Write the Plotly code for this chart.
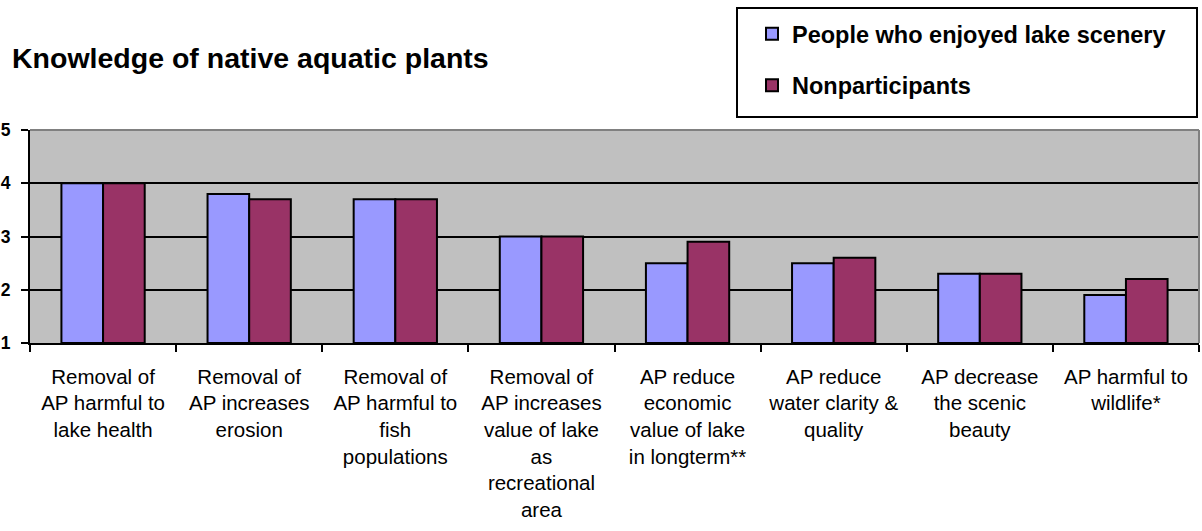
import plotly.graph_objects as go

# chart values
CATEGORIES = [
    "Removal of<br>AP harmful to<br>lake health",
    "Removal of<br>AP increases<br>erosion",
    "Removal of<br>AP harmful to<br>fish<br>populations",
    "Removal of<br>AP increases<br>value of lake<br>as<br>recreational<br>area",
    "AP reduce<br>economic<br>value of lake<br>in longterm**",
    "AP reduce<br>water clarity &<br>quality",
    "AP decrease<br>the scenic<br>beauty",
    "AP harmful to<br>wildlife*",
]
SCENERY = [4.0, 3.8, 3.7, 3.0, 2.5, 2.5, 2.3, 1.9]
NONPART = [4.0, 3.7, 3.7, 3.0, 2.9, 2.6, 2.3, 2.2]
SERIES_NAMES = ["People who enjoyed lake scenery", "Nonparticipants"]
Y_TICKS = [1, 2, 3, 4, 5]

FONT = "Arial, Liberation Sans, sans-serif"
BLUE = "#9999FF"
MAROON = "#993366"
PLOT_BG = "#C0C0C0"

W, H = 1202, 531
L, R, T, B = 30, 3, 130, 531 - 343
plot_w = W - L - R
plot_h = H - T - B


def px_x(x):
    # page pixel -> paper x
    return (x - L) / plot_w


def px_y(y):
    # page pixel -> paper y
    return (H - B - y) / plot_h


fig = go.Figure()
for name, vals, col in [(SERIES_NAMES[0], SCENERY, BLUE), (SERIES_NAMES[1], NONPART, MAROON)]:
    fig.add_trace(go.Bar(
        x=CATEGORIES,
        y=[v - 1 for v in vals],
        base=1,
        name=name,
        legendgroup=name,
        marker=dict(color=col, line=dict(color="black", width=2)),
        hoverinfo="skip",
    ))

fig.update_layout(
    width=W,
    height=H,
    margin=dict(l=L, r=R, t=T, b=B, autoexpand=False),
    paper_bgcolor="white",
    plot_bgcolor=PLOT_BG,
    barmode="group",
    bargap=0.43,
    bargroupgap=0,
    font=dict(family=FONT, color="black"),
    title=dict(
        text="Knowledge of native aquatic plants",
        x=12 / W, xref="container", xanchor="left",
        y=1 - 58 / H, yref="container", yanchor="middle",
        pad=dict(l=0, r=0, t=0, b=0),
        font=dict(family=FONT, size=28.5, color="black", weight="bold"),
    ),
    legend=dict(
        x=px_x(752), y=px_y(12), xanchor="left", yanchor="top",
        bgcolor="rgba(0,0,0,0)", borderwidth=0,
        font=dict(family=FONT, size=23.5, color="black", weight="bold"),
        traceorder="grouped", tracegroupgap=18,
    ),
    showlegend=True,
)

fig.update_xaxes(
    automargin=False,
    showline=True, linecolor="black", linewidth=2,
    ticks="outside", tickson="boundaries", ticklen=7, tickwidth=2, tickcolor="black",
    tickfont=dict(family=FONT, size=20.5, color="black"),
    ticklabelstandoff=14,
    showgrid=False,
    fixedrange=True,
)
fig.update_yaxes(
    automargin=False,
    range=[1, 5], tickvals=Y_TICKS,
    showline=True, linecolor="black", linewidth=2,
    ticks="outside", ticklen=7, tickwidth=2, tickcolor="black",
    tickfont=dict(family=FONT, size=17.5, color="black", weight="bold"),
    ticklabelstandoff=7,
    showgrid=True, gridcolor="black", gridwidth=2,
    zeroline=False,
    fixedrange=True,
)

# grey top/right plot border and the legend frame
fig.add_shape(type="line", xref="paper", yref="paper", x0=0, x1=1, y0=1, y1=1,
              line=dict(color="#808080", width=2))
fig.add_shape(type="line", xref="paper", yref="paper", x0=1, x1=1, y0=0, y1=1,
              line=dict(color="#808080", width=2))
fig.add_shape(type="rect", xref="paper", yref="paper",
              x0=px_x(737), x1=px_x(1197), y0=px_y(117), y1=px_y(8),
              line=dict(color="black", width=2), fillcolor="white", layer="below")

# drop the default body margin so the figure sits at the page's top-left corner
fig.write_html(
    "out.html",
    config={"displayModeBar": False},
    post_script="document.body.style.margin='0';",
)
